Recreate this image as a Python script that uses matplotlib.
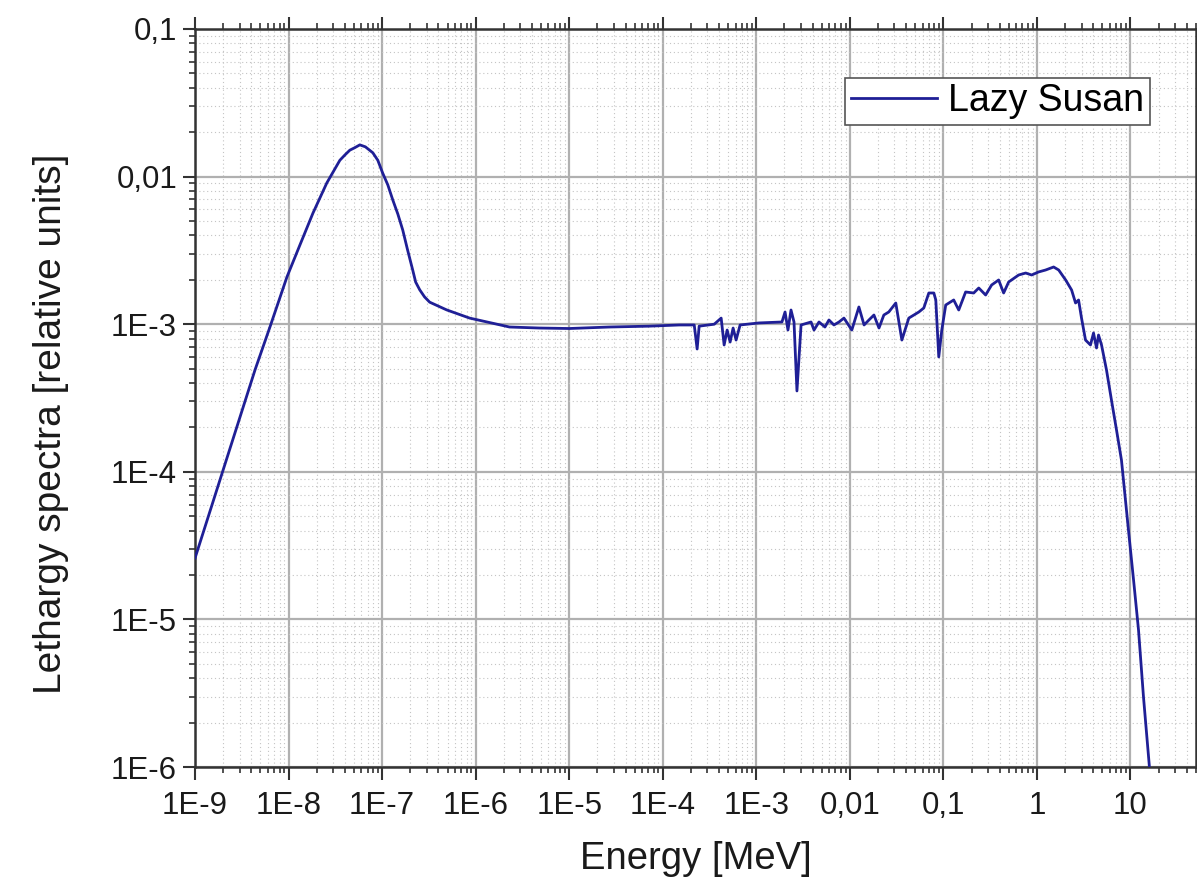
import numpy as np
import matplotlib.pyplot as plt
from matplotlib.ticker import LogLocator, FixedLocator, FixedFormatter, NullFormatter

plt.rcParams['font.family'] = ['Liberation Sans', 'DejaVu Sans']

# energy [MeV] and lethargy spectrum values
energy = [1.0e-9, 4.37e-9, 6.31e-9, 9.59e-9, 1.32e-8, 1.82e-8, 2.56e-8, 3.53e-8,
          3.99e-8, 4.51e-8, 5.10e-8, 5.77e-8, 6.62e-8, 7.94e-8, 8.98e-8, 1.01e-7,
          1.15e-7, 1.30e-7, 1.47e-7, 1.66e-7, 1.87e-7, 2.12e-7, 2.28e-7,
          2.52e-7, 2.84e-7, 3.22e-7, 4.89e-7, 8.61e-7, 2.30e-6, 4.81e-6, 1.0e-5, 2.69e-5,
          7.18e-5, 1.50e-4, 2.17e-4, 2.33e-4, 2.45e-4, 3.55e-4, 4.21e-4, 4.53e-4,
          4.88e-4, 5.25e-4, 5.65e-4, 6.08e-4, 6.71e-4, 1.07e-3, 1.88e-3, 2.03e-3,
          2.18e-3, 2.35e-3, 2.53e-3, 2.72e-3, 3.01e-3, 3.85e-3, 4.14e-3, 4.68e-3,
          5.42e-3, 5.98e-3, 6.76e-3, 7.66e-3, 8.65e-3, 1.05e-2, 1.25e-2, 1.42e-2,
          1.60e-2, 1.81e-2, 2.05e-2, 2.31e-2, 2.61e-2, 3.10e-2, 3.60e-2, 4.27e-2,
          5.47e-2, 6.18e-2, 6.99e-2, 7.91e-2, 8.30e-2, 8.93e-2, 9.62e-2, 0.106,
          0.129, 0.146, 0.173, 0.211, 0.239, 0.283, 0.328, 0.390, 0.441, 0.499,
          0.638, 0.759, 0.879, 1.04, 1.24, 1.51, 1.71, 2.03, 2.35, 2.59, 2.79,
          3.00, 3.31, 3.74, 4.03, 4.34, 4.56, 4.91, 5.55, 6.27, 7.10, 8.02, 9.52,
          10.8, 12.2, 13.8, 15.9, 17.0]
spectrum = [2.61e-5, 4.90e-4, 9.57e-4, 2.09e-3, 3.44e-3, 5.66e-3, 9.06e-3, 1.29e-2,
            1.40e-2, 1.51e-2, 1.57e-2, 1.64e-2, 1.59e-2, 1.45e-2, 1.29e-2, 1.06e-2,
            8.77e-3, 6.93e-3, 5.58e-3, 4.34e-3, 3.18e-3, 2.33e-3, 1.93e-3,
            1.71e-3, 1.53e-3, 1.41e-3, 1.25e-3, 1.10e-3, 9.57e-4, 9.42e-4, 9.35e-4, 9.57e-4,
            9.70e-4, 9.88e-4, 9.88e-4, 6.79e-4, 9.70e-4, 1.00e-3, 1.10e-3, 7.23e-4,
            9.13e-4, 7.57e-4, 9.42e-4, 7.81e-4, 9.88e-4, 1.02e-3, 1.035e-3, 1.21e-3,
            9.13e-4, 1.248e-3, 1.035e-3, 3.53e-4, 9.88e-4, 1.035e-3, 9.13e-4, 1.035e-3,
            9.57e-4, 1.068e-3, 9.88e-4, 1.035e-3, 1.10e-3, 9.13e-4, 1.308e-3, 9.88e-4,
            1.068e-3, 1.154e-3, 9.42e-4, 1.154e-3, 1.21e-3, 1.392e-3, 7.81e-4, 1.10e-3,
            1.21e-3, 1.288e-3, 1.627e-3, 1.627e-3, 1.459e-3, 6.00e-4, 9.13e-4, 1.349e-3,
            1.459e-3, 1.248e-3, 1.653e-3, 1.627e-3, 1.759e-3, 1.577e-3, 1.843e-3, 1.993e-3, 1.627e-3, 1.932e-3,
            2.154e-3, 2.222e-3, 2.154e-3, 2.258e-3, 2.329e-3, 2.441e-3, 2.329e-3, 1.993e-3, 1.705e-3, 1.392e-3, 1.459e-3,
            1.10e-3, 7.81e-4, 7.23e-4, 8.72e-4, 6.90e-4, 8.45e-4, 7.23e-4, 4.89e-4, 3.06e-4, 1.92e-4, 1.20e-4, 4.05e-5,
            1.85e-5, 8.5e-6, 2.97e-6, 1.03e-6, 5.0e-7]

xticks = [1e-9, 1e-8, 1e-7, 1e-6, 1e-5, 1e-4, 1e-3, 1e-2, 1e-1, 1, 10]
xlabels = ['1E-9', '1E-8', '1E-7', '1E-6', '1E-5', '1E-4', '1E-3', '0,01', '0,1', '1', '10']
yticks = [1e-6, 1e-5, 1e-4, 1e-3, 1e-2, 1e-1]
ylabels = ['1E-6', '1E-5', '1E-4', '1E-3', '0,01', '0,1']

fig = plt.figure(figsize=(11.97, 8.94), dpi=100)
ax = fig.add_axes([0.163, 0.142, 0.836, 0.8256])

ax.plot(energy, spectrum, color='#1f1f96', lw=2.0, label='Lazy Susan', zorder=3)

ax.set_xscale('log')
ax.set_yscale('log')
ax.set_xlim(1e-9, 50)
ax.set_ylim(1e-6, 0.1)

ax.xaxis.set_major_locator(FixedLocator(xticks))
ax.xaxis.set_major_formatter(FixedFormatter(xlabels))
ax.yaxis.set_major_locator(FixedLocator(yticks))
ax.yaxis.set_major_formatter(FixedFormatter(ylabels))
ax.xaxis.set_minor_locator(LogLocator(base=10, subs=np.arange(2, 10), numticks=30))
ax.yaxis.set_minor_locator(LogLocator(base=10, subs=np.arange(2, 10), numticks=30))
ax.xaxis.set_minor_formatter(NullFormatter())
ax.yaxis.set_minor_formatter(NullFormatter())

ax.grid(which='minor', color='#c4c4c4', lw=0.8, ls=(0, (1, 2.5)), zorder=0)
ax.grid(which='major', color='#b0b0b0', lw=1.6, zorder=1)
ax.set_axisbelow(True)

for s in ax.spines.values():
    s.set_linewidth(1.8)
    s.set_color('#333333')

ax.tick_params(which='both', direction='out', top=True, right=False, colors='#333333',
               labelcolor='#1a1a1a', labelsize=22.5)
ax.tick_params(which='major', length=9, width=1.5)
ax.tick_params(which='minor', length=4.5, width=1.2)
ax.tick_params(axis='x', which='major', pad=8)
ax.tick_params(axis='y', which='major', pad=4)

ax.set_xlabel('Energy [MeV]', fontsize=27.5, color='#1a1a1a')
ax.set_ylabel('Lethargy spectra [relative units]', fontsize=28, color='#1a1a1a')
ax.xaxis.set_label_coords(0.5, -0.1)
ax.yaxis.set_label_coords(-0.126, 0.465)

leg = ax.legend(loc='upper right', bbox_to_anchor=(0.954, 0.934), borderaxespad=0,
                fontsize=27, fancybox=False, framealpha=1, edgecolor='#555555',
                borderpad=0.15, handlelength=2.3, handletextpad=0.3)
leg.get_frame().set_linewidth(1.2)

fig.savefig('out.png', dpi=100)
